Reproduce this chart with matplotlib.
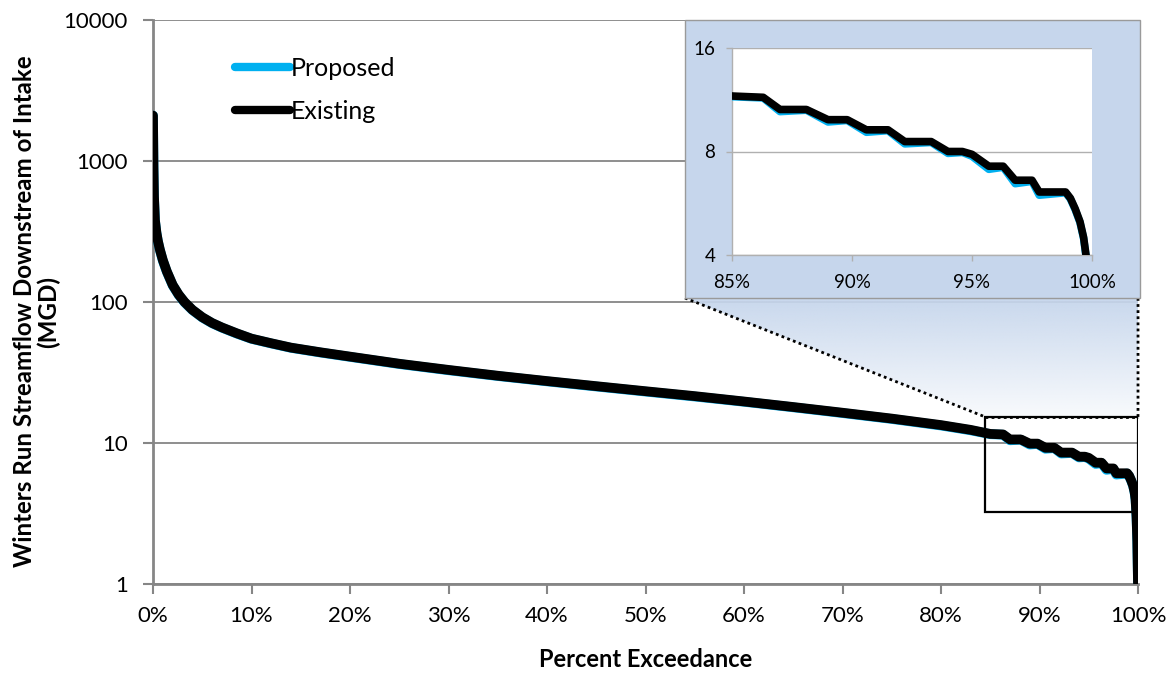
import numpy as np
import matplotlib
matplotlib.use("Agg")
import matplotlib.pyplot as plt
from matplotlib.patches import Rectangle, Polygon
from matplotlib.ticker import FixedLocator, FuncFormatter, NullLocator

plt.rcParams['font.family'] = ['Lato', 'DejaVu Sans']

# Flow-duration data: percent of time a flow is equalled or exceeded
exceedance_pct = [0, 0.05, 0.1, 0.2, 0.35, 0.5, 0.7, 1.0, 1.4, 2.0, 2.6, 3.2, 4.0,
                  5.0, 6.0, 7.0, 8.5, 10, 12, 14, 17, 20, 25, 30, 35, 40, 45, 50,
                  55, 60, 65, 70, 75, 80, 83, 85.0, 86.3, 87.0, 88.1, 89.0, 89.8,
                  90.6, 91.5, 92.2, 93.3, 94.0, 94.6, 95.0, 95.7, 96.3, 96.8, 97.5,
                  97.8, 98.9, 99.1, 99.3, 99.5, 99.65, 99.75, 99.85, 99.93, 100]

existing_mgd = [2100, 900, 560, 380, 310, 270, 235, 198, 165, 132, 113, 100, 88,
                78, 71, 66, 60, 55, 51, 47.5, 44, 41, 36.5, 33, 30, 27.5, 25.3, 23.3,
                21.5, 19.7, 18.0, 16.4, 14.9, 13.4, 12.4, 11.6, 11.5, 10.6, 10.6, 9.9, 9.9,
                9.25, 9.25, 8.55, 8.55, 8.0, 8.0, 7.85, 7.25, 7.25, 6.6, 6.6,
                6.1, 6.1, 5.85, 5.45, 5.0, 4.5, 4.0, 3.0, 2.0, 1.0]

proposed_mgd = [2100, 895, 557, 378, 308, 268, 233, 196, 164, 131, 112.3, 99.4, 87.6,
                77.6, 70.7, 65.7, 59.7, 54.8, 50.8, 47.3, 43.8, 40.8, 36.3, 32.8, 29.85, 27.35, 25.15, 23.15,
                21.35, 19.6, 17.9, 16.3, 14.8, 13.3, 12.3, 11.55, 11.45, 10.45, 10.55, 9.75, 9.85,
                9.1, 9.2, 8.42, 8.5, 7.9, 7.95, 7.75, 7.1, 7.2, 6.45, 6.55,
                5.97, 6.07, 5.82, 5.42, 4.97, 4.47, 3.97, 2.97, 1.98, 1.0]

x_ticks = [0, 10, 20, 30, 40, 50, 60, 70, 80, 90, 100]
y_ticks = [1, 10, 100, 1000, 10000]
inset_x_ticks = [85, 90, 95, 100]
inset_y_ticks = [4, 8, 16]

BLUE = '#00b0f0'
GRID = '#868686'
BOX_BLUE = '#c6d6ec'

W, H = 1175, 674
fig = plt.figure(figsize=(W / 100, H / 100), dpi=100)
fig.patch.set_facecolor('white')

# ---- main axes -------------------------------------------------------------
ax = fig.add_axes([153 / W, 1 - 584 / H, 985 / W, 564 / H])
ax.set_yscale('log')
ax.set_xlim(0, 100)
ax.set_ylim(1, 10000)
ax.xaxis.set_major_locator(FixedLocator(x_ticks))
ax.yaxis.set_major_locator(FixedLocator(y_ticks))
ax.yaxis.set_minor_locator(NullLocator())
ax.xaxis.set_major_formatter(FuncFormatter(lambda v, p: f"{v:.0f}%"))
ax.yaxis.set_major_formatter(FuncFormatter(lambda v, p: f"{v:.0f}"))
ax.tick_params(axis='both', labelsize=16, colors='black', length=7, width=1.5,
               direction='out')
ax.tick_params(axis='y', color=GRID, pad=11)
ax.tick_params(axis='x', color=GRID, pad=9)
ax.grid(axis='y', color=GRID, linewidth=1.3)
ax.set_axisbelow(True)
for s in ('top', 'right'):
    ax.spines[s].set_visible(False)
for s in ('left', 'bottom'):
    ax.spines[s].set_color(GRID)
    ax.spines[s].set_linewidth(2)

ax.plot(exceedance_pct, proposed_mgd, color=BLUE, linewidth=7,
        solid_capstyle='round', label='Proposed', zorder=3)
ax.plot(exceedance_pct, existing_mgd, color='black', linewidth=7,
        solid_capstyle='round', label='Existing', zorder=4)

ax.set_xlabel('Percent Exceedance', fontsize=17, fontweight='bold', labelpad=16)
ax.set_ylabel('Winters Run Streamflow Downstream of Intake\n(MGD)', fontsize=17.4,
              fontweight='bold', multialignment='center', linespacing=1.0)
ax.yaxis.set_label_coords(-0.0944, 0.483)

leg = ax.legend(loc='upper left', bbox_to_anchor=(0.083, 0.935), frameon=False,
                fontsize=18, handlelength=2.2, handletextpad=0.05,
                labelspacing=0.8, borderaxespad=0, borderpad=0)
for h in leg.get_lines():
    h.set_linewidth(6)
    h.set_solid_capstyle('round')

# ---- zoom callout: rectangle, connectors, gradient, inset box ---------------
to_axes = (ax.transData + ax.transAxes.inverted()).transform
rect_x0, rect_x1 = 84.5, 100
rect_y0, rect_y1 = 3.25, 15.3
ax.add_patch(Rectangle((rect_x0, rect_y0), rect_x1 - rect_x0, rect_y1 - rect_y0,
                       fill=False, edgecolor='black', linewidth=1.6, zorder=5))

(rx0, ry1) = to_axes((rect_x0, rect_y1))
(rx1, _) = to_axes((rect_x1, rect_y1))
box_x0, box_x1 = (685 - 153) / 985, (1140 - 153) / 985
box_y0, box_y1 = (584 - 298) / 564, 1.0

poly = [(box_x0, box_y0), (box_x1, box_y0), (rx1, ry1), (rx0, ry1)]
grad = np.zeros((64, 2, 4))
rgb = matplotlib.colors.to_rgb(BOX_BLUE)
grad[..., :3] = rgb
grad[..., 3] = np.linspace(0.95, 0.12, 64)[:, None]
im = ax.imshow(grad, extent=(box_x0, box_x1, ry1, box_y0), transform=ax.transAxes,
               aspect='auto', interpolation='bilinear', zorder=2, origin='upper')
clip = Polygon(poly, closed=True, transform=ax.transAxes, facecolor='none',
               edgecolor='none')
ax.add_patch(clip)
im.set_clip_path(clip)

ax.plot([box_x0, rx0], [box_y0, ry1], transform=ax.transAxes, color='black',
        linestyle=(0, (1, 1.2)), linewidth=2, zorder=5, clip_on=False)
ax.plot([box_x1 - 0.002, rx1], [box_y0, ry1], transform=ax.transAxes, color='black',
        linestyle=(0, (1, 1.2)), linewidth=2, zorder=5, clip_on=False)
ax.plot([rx0, rx1], [ry1, ry1], transform=ax.transAxes, color='black',
        linestyle=(0, (1, 1.2)), linewidth=2, zorder=5, clip_on=False)

ax.add_patch(Rectangle((box_x0, box_y0), box_x1 - box_x0, box_y1 - box_y0,
                       transform=ax.transAxes, facecolor=BOX_BLUE,
                       edgecolor='#9a9a9a', linewidth=1, zorder=6, clip_on=False))

# ---- inset axes ------------------------------------------------------------
ins = fig.add_axes([732 / W, 1 - 255 / H, 360 / W, 207 / H], zorder=10)
ins.set_facecolor('white')
ins.set_yscale('log', base=2)
ins.set_xlim(85, 100)
ins.set_ylim(4, 16)
ins.xaxis.set_major_locator(FixedLocator(inset_x_ticks))
ins.yaxis.set_major_locator(FixedLocator(inset_y_ticks))
ins.yaxis.set_minor_locator(NullLocator())
ins.xaxis.set_major_formatter(FuncFormatter(lambda v, p: f"{v:.0f}%"))
ins.yaxis.set_major_formatter(FuncFormatter(lambda v, p: f"{v:.0f}"))
ins.tick_params(axis='both', labelsize=13.5, colors='black', length=4, width=1,
                color='#b0b0b0')
ins.tick_params(axis='x', pad=10)
ins.tick_params(axis='y', pad=8)
ins.grid(axis='y', color='#b0b0b0', linewidth=1)
for s in ('top', 'right'):
    ins.spines[s].set_visible(False)
for s in ('left', 'bottom'):
    ins.spines[s].set_color('#b0b0b0')
    ins.spines[s].set_linewidth(1)
ins.plot(exceedance_pct, proposed_mgd, color=BLUE, linewidth=5.5, zorder=3)
ins.plot(exceedance_pct, existing_mgd, color='black', linewidth=5.5, zorder=4)

fig.savefig('out.png', dpi=100, facecolor='white')
